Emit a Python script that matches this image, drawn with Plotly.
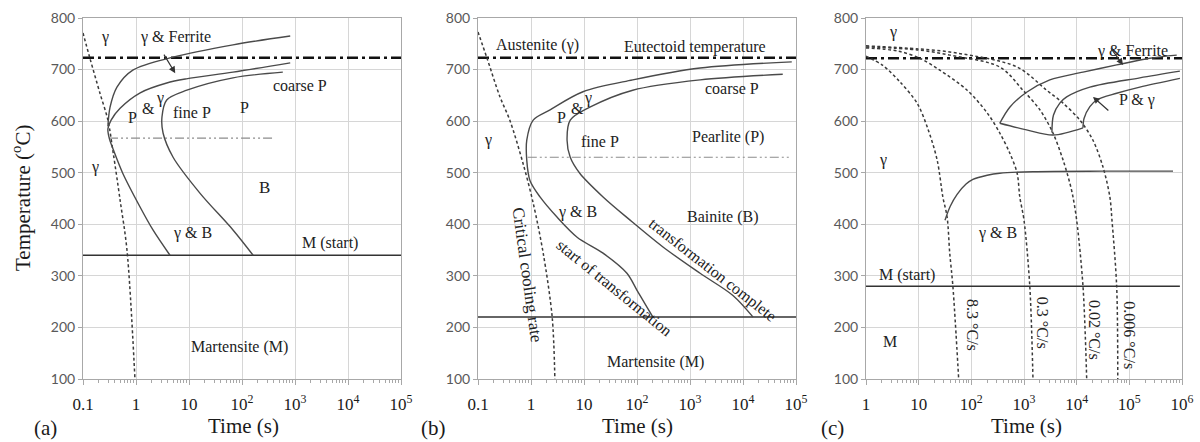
import math
import plotly.graph_objects as go

# ---------------- (a) isothermal transformation diagram ----------------
a_crit_t = [0.1, 0.135, 0.209, 0.295, 0.372, 0.501, 0.676, 0.955]
a_crit_T = [771, 722, 654, 602, 538, 447, 350, 100]

a_ferrite_t = [0.295, 0.324, 0.437, 0.871, 5.0, 67.6, 813]
a_ferrite_T = [590, 627, 666, 699, 724, 748, 765]

a_start_t = [813, 67.6, 8.91, 3.80, 1.20, 0.501, 0.339, 0.295, 0.316, 0.372, 0.562, 1.20, 2.09, 4.37]
a_start_T = [713, 695, 682, 674, 655, 625, 602, 585, 565, 545, 499, 433, 389, 340]

a_finish_t = [589, 67.6, 9.12, 3.80, 3.09, 3.24, 5.01, 16.2, 67.6, 162]
a_finish_T = [695, 684, 660, 641, 608, 577, 530, 460, 389, 340]

a_split_t = [0.31, 420]
a_split_T = [567, 567]
a_eutectoid_T = 723
a_ms_T = 340

# ---------------- (b) isothermal transformation diagram ----------------
b_crit_t = [0.1, 0.148, 0.26, 0.398, 0.708, 1.10, 1.70, 2.51, 2.82]
b_crit_T = [773, 722, 647, 602, 518, 441, 344, 220, 100]

b_start_t = [83200, 1550, 83.2, 9.55, 2.29, 1.10, 0.832, 0.832, 0.955, 1.48, 3.09, 7.41, 22.9, 64.6, 100, 155, 200]
b_start_T = [715, 703, 680, 657, 622, 602, 563, 524, 485, 453, 414, 375, 344, 305, 272, 239, 220]

b_finish_t = [56200, 1550, 83.2, 12.9, 5.50, 4.79, 5.50, 8.32, 22.9, 74.1, 309, 1550, 6460, 15500]
b_finish_T = [691, 680, 660, 627, 602, 563, 530, 499, 453, 408, 356, 305, 262, 220]

b_split_t = [0.87, 77600]
b_split_T = [530, 530]
b_eutectoid_T = 723
b_ms_T = 220

# ---------------- (c) continuous cooling diagram ----------------
c_r1_t = [1.0, 2.09, 4.42, 9.33, 14.5, 22.4, 28.8, 34.7, 38.9, 44.7, 57.5]
c_r1_T = [726, 708, 676, 635, 589, 525, 453, 414, 344, 279, 100]
c_r2_t = [1.0, 3.98, 10.5, 25.1, 83.2, 200, 347, 537, 741, 832, 1000, 1290, 1480]
c_r2_T = [742, 736, 722, 699, 660, 616, 577, 538, 499, 453, 408, 279, 100]
c_r3_t = [1.0, 10, 38.9, 347, 955, 2000, 3550, 5500, 7410, 8510, 10000, 13200, 15500]
c_r3_T = [744, 738, 728, 705, 660, 622, 577, 525, 480, 453, 408, 279, 100]
c_r4_t = [1.0, 10, 53.7, 741, 2690, 5500, 11500, 20400, 31600, 42700, 46800, 57500, 60300]
c_r4_T = [746, 740, 732, 705, 660, 635, 602, 563, 511, 453, 408, 279, 100]
c_rate_labels = ["8.3 °C/s", "0.3 °C/s", "0.02 °C/s", "0.006 °C/s"]

c_ferrite_t = [347, 537, 1120, 3090, 13200, 57500, 245000, 794000]
c_ferrite_T = [596, 627, 656, 680, 695, 709, 722, 728]
c_nose_t = [347, 1120, 3550, 13200]
c_nose_T = [596, 583, 573, 587]
c_pstart_t = [3390, 3630, 4790, 6460, 17800, 158000, 912000]
c_pstart_T = [578, 612, 635, 647, 666, 684, 697]
c_pfinish_t = [13200, 13800, 17800, 24000, 57500, 158000, 912000]
c_pfinish_T = [587, 605, 628, 641, 654, 666, 683]
c_bain_t = [31.6, 39.8, 53.7, 79.4, 107, 200, 347, 1480, 31600, 676000]
c_bain_T = [408, 435, 458, 478, 487, 495, 499, 502, 503, 503]
c_eutectoid_T = 722
c_ms_T = 280
c_ms_end = 912000

# tick labels
ticks_ab = [0.1, 1, 10, 100, 1e3, 1e4, 1e5]
labels_ab = ["0.1", "1", "10", "10<sup>2</sup>", "10<sup>3</sup>", "10<sup>4</sup>", "10<sup>5</sup>"]
ticks_c = [1, 10, 100, 1e3, 1e4, 1e5, 1e6]
labels_c = ["1", "10", "10<sup>2</sup>", "10<sup>3</sup>", "10<sup>4</sup>", "10<sup>5</sup>", "10<sup>6</sup>"]

SERIF = "Liberation Serif"
CURVE = "#4a4a4a"
DASHED = "#3a3a3a"

fig = go.Figure()


def line(t, T, ax, color=CURVE, width=1.4, dash="solid", spline=True):
    fig.add_trace(go.Scatter(
        x=t, y=T, mode="lines", xaxis="x" + ax, yaxis="y" + ax,
        line=dict(color=color, width=width, dash=dash,
                  shape="spline" if spline else "linear", smoothing=0.9),
        hoverinfo="skip", showlegend=False))


EUT_DASH = "11px,4px,3px,4px"
SPLIT_DASH = "9px,3px,2px,3px,2px,3px"
COOL_DASH = "3px,2.5px"

# (a)
line([ticks_ab[0], ticks_ab[-1]], [a_eutectoid_T] * 2, "", "#111", 2.4, EUT_DASH, False)
line(a_split_t, a_split_T, "", "#8c8c8c", 1.2, SPLIT_DASH, False)
line([ticks_ab[0], ticks_ab[-1]], [a_ms_T] * 2, "", "#333", 1.5, "solid", False)
line(a_crit_t, a_crit_T, "", DASHED, 1.5, COOL_DASH)
line(a_ferrite_t, a_ferrite_T, "")
line(a_start_t, a_start_T, "")
line(a_finish_t, a_finish_T, "")

# (b)
line([ticks_ab[0], ticks_ab[-1]], [b_eutectoid_T] * 2, "2", "#111", 2.4, EUT_DASH, False)
line(b_split_t, b_split_T, "2", "#8c8c8c", 1.2, SPLIT_DASH, False)
line([ticks_ab[0], ticks_ab[-1]], [b_ms_T] * 2, "2", "#333", 1.5, "solid", False)
line(b_crit_t, b_crit_T, "2", DASHED, 1.5, COOL_DASH)
line(b_start_t, b_start_T, "2")
line(b_finish_t, b_finish_T, "2")

# (c)
line([ticks_c[0], ticks_c[-1]], [c_eutectoid_T] * 2, "3", "#111", 2.4, EUT_DASH, False)
line([ticks_c[0], c_ms_end], [c_ms_T] * 2, "3", "#333", 1.5, "solid", False)
for t, T in [(c_r1_t, c_r1_T), (c_r2_t, c_r2_T), (c_r3_t, c_r3_T), (c_r4_t, c_r4_T)]:
    line(t, T, "3", DASHED, 1.5, COOL_DASH)
line(c_ferrite_t, c_ferrite_T, "3")
line(c_nose_t, c_nose_T, "3")
line(c_pstart_t, c_pstart_T, "3")
line(c_pfinish_t, c_pfinish_T, "3")
line(c_bain_t, c_bain_T, "3")

# ---------------- axes ----------------
Y_DOM = [1 - 379 / 442, 1 - 18 / 442]
X_DOMS = [[83 / 1200, 401 / 1200], [478 / 1200, 796 / 1200], [866 / 1200, 1182 / 1200]]


def minor_vals(lo, hi):
    return [m * 10 ** k for k in range(lo, hi) for m in range(2, 10)]


def xaxis(dom, rng, tv, tt, anchor, mv):
    return dict(type="log", range=rng, domain=dom, anchor=anchor, automargin=False,
                tickmode="array", tickvals=tv, ticktext=tt,
                showgrid=True, gridcolor="#d6d6d6", gridwidth=1,
                showline=True, linecolor="#a8a8a8", linewidth=1, mirror=True,
                ticks="outside", ticklen=5, tickcolor="#a8a8a8", ticklabelstandoff=5,
                minor=dict(tickmode="array", tickvals=mv, ticks="outside",
                           ticklen=3, tickcolor="#a8a8a8", showgrid=False),
                tickfont=dict(family=SERIF, size=17, color="#1a1a1a"),
                zeroline=False, fixedrange=True)


def yaxis(anchor):
    return dict(range=[100, 800], domain=Y_DOM, anchor=anchor, automargin=False,
                tickmode="linear", tick0=100, dtick=100,
                showgrid=True, gridcolor="#d6d6d6", gridwidth=1,
                showline=True, linecolor="#a8a8a8", linewidth=1, mirror=True,
                ticks="outside", ticklen=4, tickcolor="#a8a8a8",
                tickfont=dict(family="Lato", size=14, color="#595959"),
                zeroline=False, fixedrange=True)


fig.update_layout(
    width=1200, height=442, margin=dict(l=0, r=0, t=0, b=0, autoexpand=False),
    paper_bgcolor="white", plot_bgcolor="white", showlegend=False,
    xaxis=xaxis(X_DOMS[0], [-1, 5], ticks_ab, labels_ab, "y", minor_vals(-1, 5)),
    xaxis2=xaxis(X_DOMS[1], [-1, 5], ticks_ab, labels_ab, "y2", minor_vals(-1, 5)),
    xaxis3=xaxis(X_DOMS[2], [0, 6], ticks_c, labels_c, "y3", minor_vals(0, 6)),
    yaxis=yaxis("x"), yaxis2=yaxis("x2"), yaxis3=yaxis("x3"),
)

# ---------------- labels ----------------
annotations = []


def label(ax, t, T, text, size=16, angle=0):
    annotations.append(dict(
        xref="x" + ax, yref="y" + ax, x=math.log10(t), y=T, text=text,
        showarrow=False, textangle=angle, xanchor="center", yanchor="middle",
        font=dict(family=SERIF, size=size, color="#222")))


def arrow(ax, t_head, T_head, t_tail, T_tail):
    annotations.append(dict(
        xref="x" + ax, yref="y" + ax, axref="x" + ax, ayref="y" + ax,
        x=math.log10(t_head), y=T_head, ax=math.log10(t_tail), ay=T_tail,
        text="", showarrow=True, arrowhead=2, arrowsize=1.1, arrowwidth=1.2,
        arrowcolor="#333"))


def paper_text(px, py, text, angle=0):
    annotations.append(dict(
        xref="paper", yref="paper", x=px / 1200, y=1 - py / 442, text=text,
        showarrow=False, textangle=angle, xanchor="center", yanchor="middle",
        font=dict(family=SERIF, size=21, color="#1a1a1a")))


# (a)
label("", 0.26, 763, "γ")
label("", 5.45, 763, "γ & Ferrite")
arrow("", 5.5, 693, 3.24, 732)
label("", 0.877, 608, "P")
label("", 1.70, 625, "&")
label("", 2.82, 645, "γ")
label("", 11.5, 616, "fine P")
label("", 110, 627, "P")
label("", 1230, 670, "coarse P")
label("", 0.17, 511, "γ")
label("", 269, 472, "B", 17)
label("", 11.5, 383, "γ & B")
label("", 4570, 364, "M (start)")
label("", 91, 162, "Martensite (M)")

# (b)
label("2", 1.35, 748, "Austenite (γ)")
label("2", 1230, 744, "Eutectoid temperature")
label("2", 6170, 664, "coarse P")
label("2", 3.80, 608, "P")
label("2", 7.41, 625, "&")
label("2", 12.0, 645, "γ")
label("2", 0.155, 563, "γ")
label("2", 20, 560, "fine P")
label("2", 5250, 569, "Pearlite (P)")
label("2", 7.41, 424, "γ & B")
label("2", 4170, 414, "Bainite (B)")
label("2", 0.84, 302, "Critical cooling rate", 17, 82)
label("2", 37, 278, "start of transformation", 16, 39)
label("2", 2630, 311, "transformation complete", 16, 38)
label("2", 219, 133, "Martensite (M)")

# (c)
label("3", 3.24, 773, "γ")
label("3", 117000, 736, "γ & Ferrite")
arrow("3", 75900, 709, 42700, 744)
label("3", 138000, 641, "P & γ")
arrow("3", 20400, 647, 42700, 618)
label("3", 2.09, 525, "γ")
label("3", 309, 383, "γ & B")
label("3", 6.03, 302, "M (start)")
label("3", 2.88, 172, "M")
for t, T, txt in zip([102, 2190, 22400, 102000], [205, 209, 195, 185], c_rate_labels):
    label("3", t, T, txt, 16, 90)

# axis titles and panel letters
paper_text(22, 198, "Temperature (<sup>o</sup>C)", -90)
for cx, letter_x, letter in [(243, 45, "(a)"), (637, 433, "(b)"), (1026, 832, "(c)")]:
    paper_text(cx, 426, "Time (s)")
    paper_text(letter_x, 428, letter)

fig.update_layout(annotations=annotations)
fig.write_html("out.html")
